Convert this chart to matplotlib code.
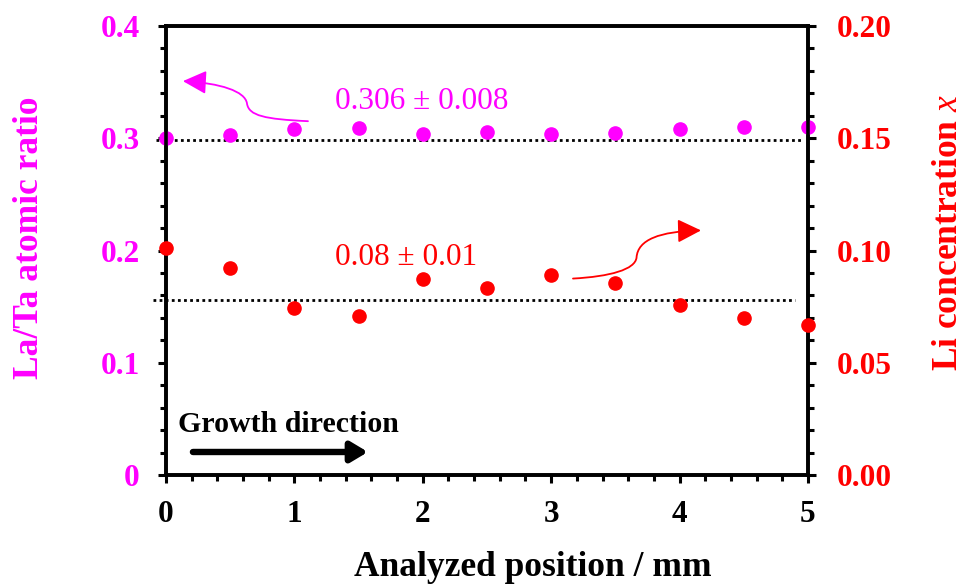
import numpy as np
import matplotlib.pyplot as plt
from matplotlib.path import Path
from matplotlib.patches import FancyArrowPatch
from matplotlib.ticker import MultipleLocator, FixedFormatter, FixedLocator

plt.rcParams['font.family'] = ['Liberation Serif', 'DejaVu Serif']
plt.rcParams['mathtext.fontset'] = 'custom'
plt.rcParams['mathtext.it'] = 'Liberation Serif:italic'
plt.rcParams['mathtext.rm'] = 'Liberation Serif'

MAGENTA = '#FF00FF'
RED = '#FF0000'

# positions along the crystal (mm)
position = [0, 0.5, 1, 1.5, 2, 2.5, 3, 3.5, 4, 4.5, 5]
la_ta_ratio = [0.300, 0.303, 0.308, 0.309, 0.304, 0.306, 0.304, 0.305, 0.308, 0.310, 0.310]
li_conc = [0.1009, 0.0920, 0.0745, 0.0710, 0.0875, 0.0832, 0.0892, 0.0856, 0.0756, 0.0699, 0.0669]

la_ta_ref = 0.298
li_ref = 0.078

left_ticks = [0, 0.1, 0.2, 0.3, 0.4]
left_labels = ['0', '0.1', '0.2', '0.3', '0.4']
right_ticks = [0, 0.05, 0.10, 0.15, 0.20]
right_labels = ['0.00', '0.05', '0.10', '0.15', '0.20']
x_ticks = [0, 1, 2, 3, 4, 5]

fig = plt.figure(figsize=(9.66, 5.87), dpi=100)
ax = fig.add_axes([0.1718, 0.1908, 0.6646, 0.7649])
ax2 = ax.twinx()

ax.set_xlim(0, 5)
ax.set_ylim(0, 0.4)
ax2.set_ylim(0, 0.2)

# reference levels
ax.plot([-0.08, 4.95], [la_ta_ref, la_ta_ref], color='black', ls=(0, (1, 1.2)),
        lw=2, clip_on=False, zorder=2)
ax2.plot([-0.1, 4.9], [li_ref, li_ref], color='black', ls=(0, (1, 1.2)),
         lw=2, clip_on=False, zorder=2)

ax.plot(position, la_ta_ratio, 'o', color=MAGENTA, ms=9.5, clip_on=False, zorder=5)
ax2.plot(position, li_conc, 'o', color=RED, ms=9.5, clip_on=False, zorder=5)

for a in (ax, ax2):
    for s in a.spines.values():
        s.set_linewidth(2.6)
    a.patch.set_visible(False)

ax.xaxis.set_major_locator(FixedLocator(x_ticks))
ax.xaxis.set_minor_locator(MultipleLocator(0.2))
ax.yaxis.set_major_locator(FixedLocator(left_ticks))
ax.yaxis.set_major_formatter(FixedFormatter(left_labels))
ax.yaxis.set_minor_locator(MultipleLocator(0.02))
ax2.yaxis.set_major_locator(FixedLocator(right_ticks))
ax2.yaxis.set_major_formatter(FixedFormatter(right_labels))
ax2.yaxis.set_minor_locator(MultipleLocator(0.01))

ax.tick_params(axis='both', which='major', direction='out', length=6, width=2.2)
ax.tick_params(axis='both', which='minor', direction='out', length=4, width=2.2)
ax.tick_params(axis='x', labelsize=22.5, pad=12)
ax.tick_params(axis='y', labelsize=22.5, pad=13, labelcolor=MAGENTA)
ax2.tick_params(axis='y', which='major', direction='out', length=6, width=2.2,
                labelsize=22.5, pad=15, labelcolor=RED)
ax2.tick_params(axis='y', which='minor', direction='out', length=4, width=2.2)
for lab in ax.get_xticklabels() + ax.get_yticklabels() + ax2.get_yticklabels():
    lab.set_fontweight('bold')

ax.set_xlabel('Analyzed position / mm', fontsize=25.5, fontweight='bold', va='center')
ax.xaxis.set_label_coords(0.572, -0.207)
ax.set_ylabel('La/Ta atomic ratio', fontsize=25.5, fontweight='bold', color=MAGENTA, va='center')
ax.yaxis.set_label_coords(-0.212, 0.528)
ax2.set_ylabel('Li concentration $x$', fontsize=25.5, fontweight='bold', color=RED,
               va='center', rotation=90)
ax2.yaxis.set_label_coords(1.219, 0.541)

# mean value labels
ax.text(1.32, 0.333, '0.306 \u00b1 0.008', fontsize=22.5, color=MAGENTA, va='center', ha='left')
ax.text(1.32, 0.194, '0.08 \u00b1 0.01', fontsize=22.5, color=RED, va='center', ha='left')

# curved pointers toward the matching axis
curve_codes = [Path.MOVETO] + [Path.CURVE4] * 6
mag_path = Path([(1.106, 0.3152), (0.771, 0.3170), (0.645, 0.3200), (0.631, 0.3310),
                 (0.617, 0.3420), (0.421, 0.3491), (0.132, 0.3509)], curve_codes)
ax.add_patch(FancyArrowPatch(path=mag_path, arrowstyle='-|>,head_length=0.9,head_width=0.45',
                             color=MAGENTA, lw=1.3, mutation_scale=16, zorder=6))
red_path = Path([(3.170, 0.1750), (3.458, 0.1768), (3.655, 0.1830), (3.665, 0.1938),
                 (3.675, 0.2098), (3.847, 0.2170), (4.167, 0.2179)], curve_codes)
ax.add_patch(FancyArrowPatch(path=red_path, arrowstyle='-|>,head_length=0.9,head_width=0.45',
                             color=RED, lw=1.3, mutation_scale=16, zorder=6))

ax.text(0.09, 0.0384, 'Growth direction', fontsize=21.5, fontweight='bold',
        va='baseline', ha='left')
ax.annotate('', xy=(1.573, 0.0205), xytext=(0.21, 0.0205),
            arrowprops=dict(arrowstyle='-|>,head_length=0.5,head_width=0.3',
                            color='black', lw=4.6, mutation_scale=20, shrinkA=0, shrinkB=0))

fig.savefig('out.png', dpi=100)
